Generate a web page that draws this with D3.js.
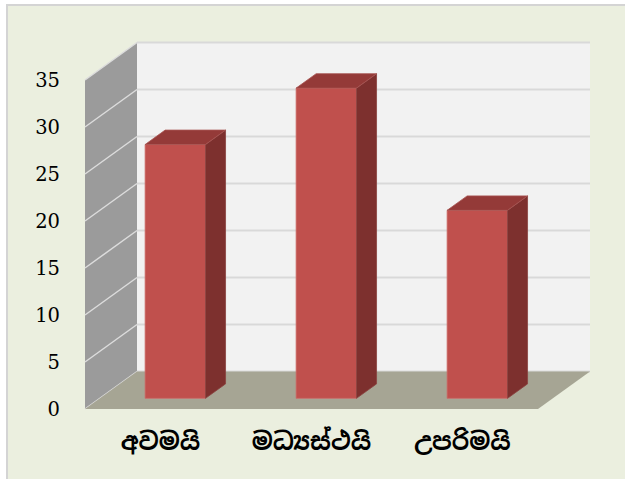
<!DOCTYPE html>
<html>
<head>
<meta charset="utf-8">
<script src="https://cdn.jsdelivr.net/npm/d3@7"></script>
<style>
  body { margin: 0; background: #fff; }
  svg { display: block; }
</style>
</head>
<body>
<div id="chart"></div>
<script>
/* D3 3D column chart */

const categories = ["අවමයි", "මධ්‍යස්ථයි", "උපරිමයි"];
const values = [27, 33, 20];
const yTicks = [0, 5, 10, 15, 20, 25, 30, 35];

const width = 625,
  height = 479,
  plot = ({ left: 85, right: 538, bottom: 409, top: 80 }),
  depth = ({ dx: 52, dy: -37.5 });

const svg = d3.select("#chart")
  .append("svg")
  .attr("width", width)
  .attr("height", height);

// chart area background
svg.append("rect")
  .attr("x", 7)
  .attr("y", 5)
  .attr("width", width)
  .attr("height", height)
  .attr("fill", "#ebefdf")
  .attr("stroke", "#d4d4d4")
  .attr("stroke-width", 2);

let x = d3.scaleBand()
  .domain(categories)
  .range([plot.left, plot.right])
  .paddingInner(0.6)
  .paddingOuter(0.3);

let y = d3.scaleLinear()
  .domain([0, 35])
  .range([plot.bottom, plot.top]);

// project a point given front-plane coords and depth fraction
const px = (xv, f) => xv + f * depth.dx;
const py = (yv, f) => yv + f * depth.dy;

const pts = arr => arr.map(p => p.join(",")).join(" ");

// back wall
svg.append("rect")
  .attr("x", px(plot.left, 1))
  .attr("y", py(y(35), 1))
  .attr("width", plot.right - plot.left)
  .attr("height", y(0) - y(35))
  .attr("fill", "#f2f2f2");

// side wall
svg.append("polygon")
  .attr("points", pts([
    [plot.left, y(35)], [plot.left, y(0)],
    [px(plot.left, 1), py(y(0), 1)], [px(plot.left, 1), py(y(35), 1)]
  ]))
  .attr("fill", "#9b9b9b");

// gridlines on back and side walls
yTicks.forEach(t => {
  svg.append("line")
    .attr("x1", px(plot.left, 1))
    .attr("x2", px(plot.right, 1))
    .attr("y1", py(y(t), 1))
    .attr("y2", py(y(t), 1))
    .attr("stroke", "#d9d9d9")
    .attr("stroke-width", 2);
  svg.append("line")
    .attr("x1", plot.left)
    .attr("x2", px(plot.left, 1))
    .attr("y1", y(t))
    .attr("y2", py(y(t), 1))
    .attr("stroke", "#dcdcdc")
    .attr("stroke-width", 1.5);
});

// floor
svg.append("polygon")
  .attr("points", pts([
    [plot.left, y(0)], [plot.right, y(0)],
    [px(plot.right, 1), py(y(0), 1)], [px(plot.left, 1), py(y(0), 1)]
  ]))
  .attr("fill", "#a6a594");

// bars
const f0 = 0.285, f1 = 0.67;
const bars = svg.append("g")
  .selectAll("g")
  .data(categories.map((c, i) => ({ c, v: values[i] })))
  .join("g");

// front face
bars.append("polygon")
  .attr("points", d => {
    const l = x(d.c), r = x(d.c) + x.bandwidth();
    return pts([
      [px(l, f0), py(y(d.v), f0)], [px(r, f0), py(y(d.v), f0)],
      [px(r, f0), py(y(0), f0)], [px(l, f0), py(y(0), f0)]
    ]);
  })
  .attr("fill", "#c0504d")
  .attr("stroke", "#cc6b68")
  .attr("stroke-width", 0.8);

// side face
bars.append("polygon")
  .attr("points", d => {
    const r = x(d.c) + x.bandwidth();
    return pts([
      [px(r, f0), py(y(d.v), f0)], [px(r, f1), py(y(d.v), f1)],
      [px(r, f1), py(y(0), f1)], [px(r, f0), py(y(0), f0)]
    ]);
  })
  .attr("fill", "#7d302e")
  .attr("stroke", "#8a4340")
  .attr("stroke-width", 0.8);

// top face
bars.append("polygon")
  .attr("points", d => {
    const l = x(d.c), r = x(d.c) + x.bandwidth();
    return pts([
      [px(l, f0), py(y(d.v), f0)], [px(r, f0), py(y(d.v), f0)],
      [px(r, f1), py(y(d.v), f1)], [px(l, f1), py(y(d.v), f1)]
    ]);
  })
  .attr("fill", "#943a38")
  .attr("stroke", "#a85553")
  .attr("stroke-width", 0.8);

// y axis labels
svg.append("g")
  .attr("transform", `translate(60,0)`)
  .call(d3.axisLeft(y)
    .tickValues(yTicks)
    .tickSize(0)
    .tickPadding(0))
  .call(g => g.select(".domain").remove())
  .selectAll(".tick text")
  .attr("font-family", "'DejaVu Serif', serif")
  .attr("font-size", 19.5)
  .attr("fill", "#000");

// x axis labels
svg.append("g")
  .selectAll("text")
  .data(categories)
  .join("text")
  .attr("x", d => x(d) + x.bandwidth() / 2)
  .attr("y", 450)
  .attr("text-anchor", "middle")
  .attr("font-family", "'Iskoola Pota', 'Noto Sans Sinhala', 'Noto Sans', sans-serif")
  .attr("font-size", 24)
  .attr("font-weight", "bold")
  .attr("fill", "#000")
  .text(d => d);
</script>
</body>
</html>
